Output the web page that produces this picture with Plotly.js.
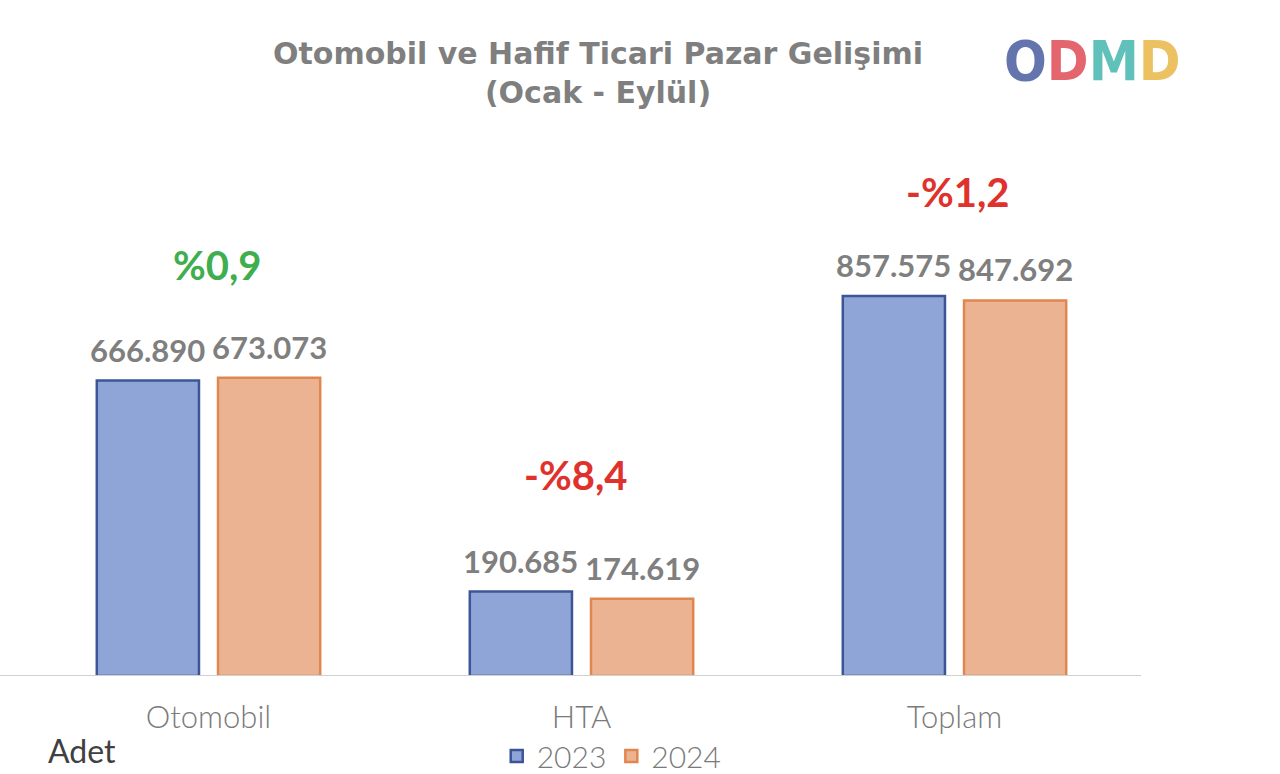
<!DOCTYPE html>
<html>
<head>
<meta charset="utf-8">
<script src="https://cdn.plot.ly/plotly-3.0.1.min.js"></script>
<style>html,body{margin:0;padding:0;background:#fff;}#chart{width:1280px;height:774px;}</style>
</head>
<body>
<div id="chart"></div>
<script>
const categories = ['Otomobil', 'HTA', 'Toplam'];
const values2023 = [666890, 190685, 857575];
const values2024 = [673073, 174619, 847692];
const pctLabels = ['%0,9', '-%8,4', '-%1,2'];
const pctColors = ['#3fae4f', '#e0322c', '#e0322c'];
const seriesNames = ['2023', '2024'];

const fmt = v => v.toLocaleString('de-DE');

const traces = [
  {type: 'bar', name: seriesNames[0], x: categories, y: values2023,
   marker: {color: '#8fa5d8', line: {color: '#3c5597', width: 2.5}}, hoverinfo: 'skip'},
  {type: 'bar', name: seriesNames[1], x: categories, y: values2024,
   marker: {color: '#ecb392', line: {color: '#e0874f', width: 2.5}}, hoverinfo: 'skip'}
];

const pctXShift = [9, -6, 3];
const pctYShift = [113, 117, 104];
const valFont = {family: 'Lato, "Open Sans", sans-serif', size: 31, color: '#7f7f7f'};
const annotations = [];
categories.forEach((c, i) => {
  annotations.push({x: c, y: values2023[i], xref: 'x', yref: 'y', xshift: -61, yshift: 31,
    yanchor: 'middle', text: '<b>' + fmt(values2023[i]) + '</b>', showarrow: false, font: valFont});
  annotations.push({x: c, y: values2024[i], xref: 'x', yref: 'y', xshift: 61, yshift: 31,
    yanchor: 'middle', text: '<b>' + fmt(values2024[i]) + '</b>', showarrow: false, font: valFont});
  annotations.push({x: c, y: Math.max(values2023[i], values2024[i]), xref: 'x', yref: 'y',
    xshift: pctXShift[i], yshift: pctYShift[i], yanchor: 'middle', text: '<b>' + pctLabels[i] + '</b>', showarrow: false,
    font: {family: 'Lato, "Open Sans", sans-serif', size: 40, color: pctColors[i]}});
});
annotations.push({xref: 'paper', yref: 'paper', x: 24 / 1119, y: -(750 - 676) / 443, xanchor: 'left', yanchor: 'middle',
  text: 'Adet', showarrow: false, font: {family: 'Lato, sans-serif', size: 32, color: '#404040'}});
// logo
const logoLetters = ['O', 'D', 'M', 'D'];
const logoColors = ['#4f63a3', '#e2505b', '#4bb9b1', '#e9b94c'];
const logoText = logoLetters.map((l, i) => '<span style="color:' + logoColors[i] + '">' + l + '</span>').join('');
annotations.push({xref: 'paper', yref: 'paper', x: (1092 - 22) / 1119, y: (676 - 60) / 443,
  xanchor: 'center', yanchor: 'middle', text: '<b>' + logoText + '</b>', showarrow: false, opacity: 0.88,
  font: {family: '"DejaVu Sans Condensed", "DejaVu Sans", sans-serif', size: 56, color: '#4f63a3'}});

const layout = {
  width: 1280, height: 774,
  margin: {l: 22, r: 139, t: 233, b: 98, autoexpand: false},
  paper_bgcolor: '#fff', plot_bgcolor: '#fff',
  separators: ',.',
  title: {text: '<b>Otomobil ve Hafif Ticari Pazar Gelişimi<br>(Ocak - Eylül)</b>',
    x: 598 / 1280, xanchor: 'center', y: 1 - 64 / 774, yanchor: 'middle',
    font: {family: '"DejaVu Sans", sans-serif', size: 30, color: '#7f7f7f'}},
  barmode: 'group', bargap: 0.35, bargroupgap: 0.157,
  xaxis: {showgrid: false, zeroline: false, showline: false, ticks: '', automargin: false,
    tickfont: {family: 'Lato, "Open Sans", sans-serif', size: 31, color: '#7a7a7a', weight: 300}, ticklabelstandoff: 20, fixedrange: true},
  yaxis: {range: [0, 1000000], visible: false, fixedrange: true},
  showlegend: true,
  legend: {orientation: 'h', x: 0.527, xanchor: 'center', y: -(756 - 676) / 443, yanchor: 'middle',
    font: {family: 'Lato, "Open Sans", sans-serif', size: 30, color: '#7a7a7a', weight: 300}, itemwidth: 30, traceorder: 'normal'},
  shapes: [{type: 'line', xref: 'paper', yref: 'y', x0: -22 / 1119, x1: 1, y0: 0, y1: 0,
    line: {color: '#d0d0d0', width: 2}}],
  annotations: annotations
};

Plotly.newPlot('chart', traces, layout, {displayModeBar: false, staticPlot: true});
</script>
</body>
</html>
